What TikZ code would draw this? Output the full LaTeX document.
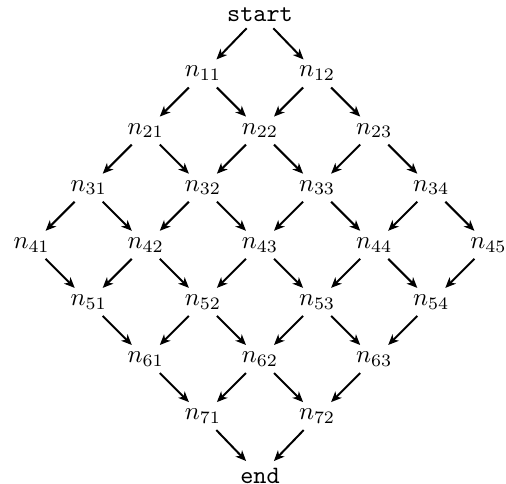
\documentclass[tikz,border=0pt]{standalone}
\usetikzlibrary{arrows.meta}
\begin{document}
\begin{tikzpicture}[x=0.4pt,y=-0.4pt,
  lbl/.style={inner sep=2.5pt},
  edge/.style={-{Stealth[length=4.2pt,width=3.6pt,inset=1.2pt]},thick}]
\useasboundingbox (0,0) rectangle (506,484);
\node[lbl] (s) at (260,14.5) {\texttt{start}};
\node[lbl] (n11) at (202.9,73.5) {$n_{11}$};
\node[lbl] (n12) at (317.1,73.5) {$n_{12}$};
\node[lbl] (n21) at (145.8,130.6) {$n_{21}$};
\node[lbl] (n22) at (260,130.6) {$n_{22}$};
\node[lbl] (n23) at (374.2,130.6) {$n_{23}$};
\node[lbl] (n31) at (88.7,187.7) {$n_{31}$};
\node[lbl] (n32) at (202.9,187.7) {$n_{32}$};
\node[lbl] (n33) at (317.1,187.7) {$n_{33}$};
\node[lbl] (n34) at (431.3,187.7) {$n_{34}$};
\node[lbl] (n41) at (31.6,244.8) {$n_{41}$};
\node[lbl] (n42) at (145.8,244.8) {$n_{42}$};
\node[lbl] (n43) at (260,244.8) {$n_{43}$};
\node[lbl] (n44) at (374.2,244.8) {$n_{44}$};
\node[lbl] (n45) at (488.4,244.8) {$n_{45}$};
\node[lbl] (n51) at (88.7,301.9) {$n_{51}$};
\node[lbl] (n52) at (202.9,301.9) {$n_{52}$};
\node[lbl] (n53) at (317.1,301.9) {$n_{53}$};
\node[lbl] (n54) at (431.3,301.9) {$n_{54}$};
\node[lbl] (n61) at (145.8,359) {$n_{61}$};
\node[lbl] (n62) at (260,359) {$n_{62}$};
\node[lbl] (n63) at (374.2,359) {$n_{63}$};
\node[lbl] (n71) at (202.9,416.1) {$n_{71}$};
\node[lbl] (n72) at (317.1,416.1) {$n_{72}$};
\node[lbl] (e) at (260,475.5) {\texttt{end}};
\foreach \a/\b in {s/n11,s/n12,
  n11/n21,n11/n22,n12/n22,n12/n23,
  n21/n31,n21/n32,n22/n32,n22/n33,n23/n33,n23/n34,
  n31/n41,n31/n42,n32/n42,n32/n43,n33/n43,n33/n44,n34/n44,n34/n45,
  n41/n51,n42/n51,n42/n52,n43/n52,n43/n53,n44/n53,n44/n54,n45/n54,
  n51/n61,n52/n61,n52/n62,n53/n62,n53/n63,n54/n63,
  n61/n71,n62/n71,n62/n72,n63/n72,
  n71/e,n72/e}
  \draw[edge] (\a) -- (\b);
\end{tikzpicture}
\end{document}
